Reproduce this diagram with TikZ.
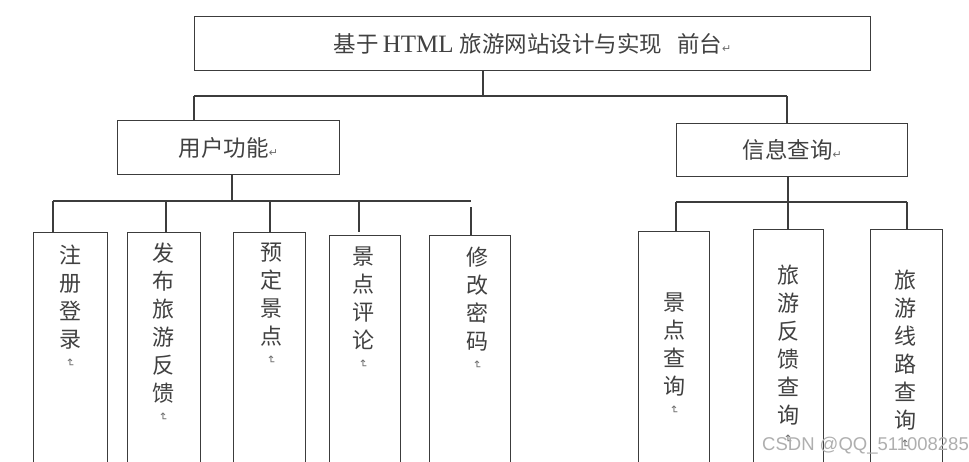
\documentclass[tikz,border=0pt]{standalone}
\usepackage{fontspec}
\usepackage{graphicx}
\newfontfamily\cjk{Noto Sans CJK SC}
\newfontfamily\serifl{Liberation Serif}
\newfontfamily\dvs{DejaVu Sans}
\newfontfamily\lsans{Liberation Sans}
\definecolor{linegray}{RGB}{60,60,60}
\definecolor{textgray}{RGB}{65,65,65}
\definecolor{markgray}{RGB}{110,110,110}
\definecolor{wmgray}{RGB}{175,175,175}
\newcommand{\pmark}{{\dvs\fontsize{11}{11}\selectfont\color{markgray}↵}}
\newcommand{\vmark}{\rotatebox{-90}{\dvs\fontsize{11}{11}\selectfont\color{markgray}↵}}
\tikzset{
  box/.style={draw=linegray, line width=1.2pt, fill=white, rectangle, inner sep=0pt, anchor=north west, text=textgray,
    font=\cjk\fontsize{22.5}{27}\selectfont},
  vbox/.style={box, minimum height=260pt},
  vtext/.style={align=center, inner sep=0pt, anchor=north, text=textgray, font=\cjk\fontsize{22}{28}\selectfont},
  conn/.style={draw=linegray, line width=1.2pt}
}
\begin{document}
\begin{tikzpicture}[x=1pt, y=-1pt]
\useasboundingbox (0,0) rectangle (969,461);
\fill[white] (0,0) rectangle (969,461);
\clip (0,0) rectangle (969,461);

% top level
\node[box, minimum width=676pt, minimum height=54pt] (top) at (194,16)
  {基于\hspace{4pt}{\serifl\fontsize{25}{27}\selectfont HTML}\hspace{6pt}旅游网站设计与实现\hspace{15pt}前台\pmark};
\node[box, minimum width=222pt, minimum height=54pt] (U) at (117,120) {用户功能\pmark};
\node[box, minimum width=231pt, minimum height=53pt] (I) at (676,123) {信息查询\pmark};

% leaf boxes
\node[vbox, minimum width=74pt] (b1) at (33,232) {};
\node[vbox, minimum width=73pt] (b2) at (127,232) {};
\node[vbox, minimum width=72pt] (b3) at (233,232) {};
\node[vbox, minimum width=71pt] (b4) at (329,235) {};
\node[vbox, minimum width=81pt] (b5) at (429,235) {};
\node[vbox, minimum width=71pt] (b6) at (638,231) {};
\node[vbox, minimum width=70pt] (b7) at (753,229) {};
\node[vbox, minimum width=72pt] (b8) at (870,229) {};

% leaf texts
\node[vtext] (t1) at (70,245) {注\\册\\登\\录\\[-17pt]\vmark};
\node[vtext] (t2) at (163,243) {发\\布\\旅\\游\\反\\馈\\[-17pt]\vmark};
\node[vtext] (t3) at (271,243) {预\\定\\景\\点\\[-17pt]\vmark};
\node[vtext] (t4) at (363,247) {景\\点\\评\\论\\[-17pt]\vmark};
\node[vtext] (t5) at (477,247) {修\\改\\密\\码\\[-17pt]\vmark};
\node[vtext] (t6) at (674,293) {景\\点\\查\\询\\[-17pt]\vmark};
\node[vtext] (t7) at (788,265) {旅\\游\\反\\馈\\查\\询\\[-17pt]\vmark};
\node[vtext] (t8) at (905,270) {旅\\游\\线\\路\\查\\询\\[-17pt]\vmark};

% connectors: top level
\coordinate (tj) at (483,96);
\coordinate (bL) at (194,96);
\coordinate (bR) at (787,96);
\draw[conn] (top.south -| tj) -- (tj);
\draw[conn] (bL) -- (bR);
\draw[conn] (bL) -- (U.north -| bL);
\draw[conn] (bR) -- (I.north -| bR);

% connectors: user functions
\coordinate (uj) at (232,201);
\coordinate (k1) at (53,201);
\coordinate (k2) at (166,201);
\coordinate (k3) at (270,201);
\coordinate (k4) at (359,201);
\coordinate (k4e) at (359,232);
\coordinate (k5) at (471,201);
\coordinate (k5s) at (471,207);
\draw[conn] (U.south -| uj) -- (uj);
\draw[conn] (k1) -- (k5);
\draw[conn] (k1) -- (b1.north -| k1);
\draw[conn] (k2) -- (b2.north -| k2);
\draw[conn] (k3) -- (b3.north -| k3);
\draw[conn] (k4) -- (k4e);
\draw[conn] (k5s) -- (b5.north -| k5s);

% connectors: info query
\coordinate (ij) at (788,202);
\coordinate (m1) at (676,202);
\coordinate (m3) at (907,202);
\draw[conn] (I.south -| ij) -- (ij);
\draw[conn] (m1) -- (m3);
\draw[conn] (m1) -- (b6.north -| m1);
\draw[conn] (ij) -- (b7.north -| ij);
\draw[conn] (m3) -- (b8.north -| m3);

% watermark
\node[anchor=base west, inner sep=0pt, text=wmgray, font=\lsans\fontsize{18.5}{18.5}\selectfont] (wm) at (762,450) {CSDN @QQ\_511008285};
\end{tikzpicture}
\end{document}
